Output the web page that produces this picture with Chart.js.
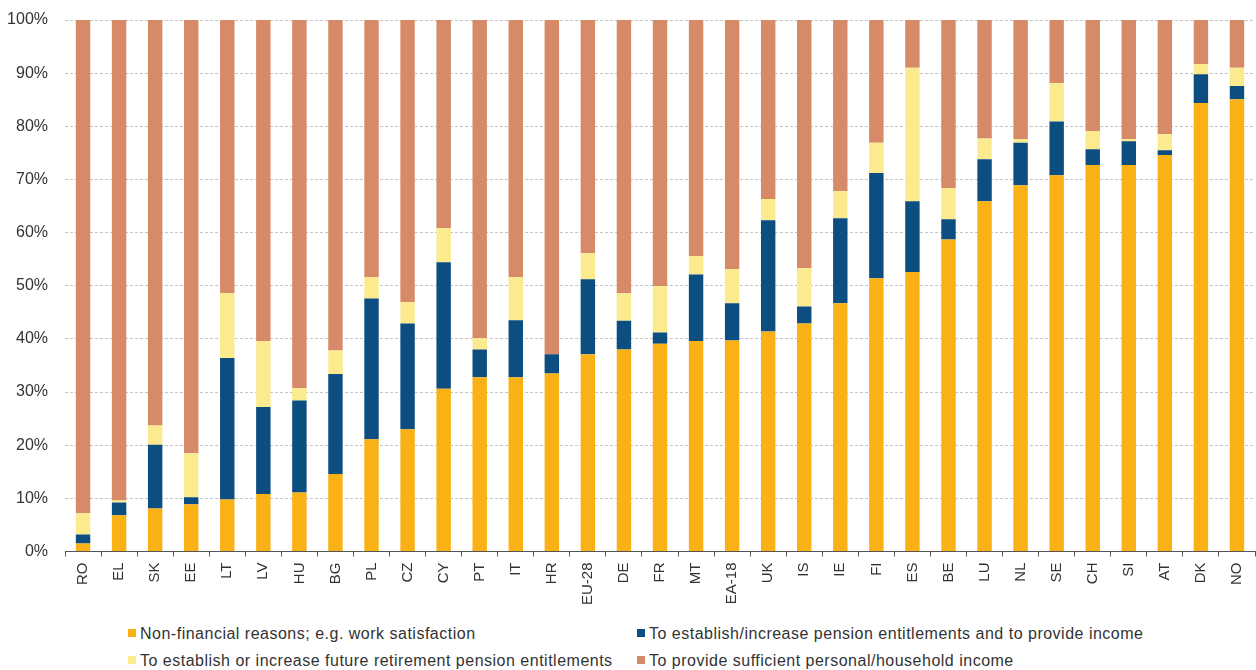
<!DOCTYPE html>
<html>
<head>
<meta charset="utf-8">
<script src="https://cdn.jsdelivr.net/npm/chart.js@4"></script>
<style>
  html, body { margin: 0; padding: 0; background: #fff; }
  #wrap { position: relative; width: 1256px; height: 670px; }
  #chart { position: absolute; left: 0; top: 0; }
  #legend {
    position: absolute; left: 0; top: 624px; width: 1256px;
    font-family: Arial, "Liberation Sans", sans-serif; font-size: 16px; letter-spacing: 0.5px; color: #333;
  }
  .item { position: absolute; white-space: nowrap; line-height: 20px; }
  .box { display: inline-block; width: 8px; height: 8px; margin-right: 4px; vertical-align: 2px; }
</style>
</head>
<body>
<div id="wrap">
  <canvas id="chart" width="1256" height="611"></canvas>
  <div id="legend"></div>
</div>
<script>
// Countries, in the order shown
const countries = ['RO', 'EL', 'SK', 'EE', 'LT', 'LV', 'HU', 'BG', 'PL', 'CZ', 'CY', 'PT', 'IT', 'HR', 'EU-28',
  'DE', 'FR', 'MT', 'EA-18', 'UK', 'IS', 'IE', 'FI', 'ES', 'BE', 'LU', 'NL', 'SE', 'CH', 'SI', 'AT', 'DK', 'NO'];

// Shares (%) for each reason, stacked bottom to top
const nonFinancial = [1.5, 6.8, 8.1, 8.9, 9.8, 10.8, 11.1, 14.6, 21.1, 23.0, 30.6, 32.8, 32.8, 33.5, 37.1,
  38.0, 39.1, 39.6, 39.7, 41.4, 42.9, 46.7, 51.4, 52.6, 58.7, 65.9, 68.9, 70.8, 72.7, 72.7, 74.6, 84.4, 85.1];
const pensionAndIncome = [1.7, 2.4, 12.0, 1.3, 26.6, 16.4, 17.3, 18.8, 26.5, 19.9, 23.8, 5.2, 10.7, 3.6, 14.1,
  5.4, 2.1, 12.5, 7.0, 20.9, 3.2, 16.0, 19.8, 13.3, 3.8, 7.9, 8.0, 10.1, 3.0, 4.5, 0.9, 5.4, 2.5];
const pensionOnly = [4.0, 0.4, 3.6, 8.3, 12.2, 12.4, 2.3, 4.4, 4.0, 4.0, 6.4, 2.1, 8.1, 0.0, 4.9,
  5.2, 8.7, 3.5, 6.4, 4.0, 7.2, 5.1, 5.7, 25.1, 5.9, 3.9, 0.7, 7.2, 3.4, 0.4, 3.0, 1.9, 3.4];
// remaining share up to 100%
const incomeOnly = countries.map((c, i) => +(100 - nonFinancial[i] - pensionAndIncome[i] - pensionOnly[i]).toFixed(1));

const yTicks = [0, 10, 20, 30, 40, 50, 60, 70, 80, 90, 100];

const seriesNames = [
  'Non-financial reasons; e.g. work satisfaction',
  'To establish/increase pension entitlements and to provide income',
  'To establish or increase future retirement pension entitlements',
  'To provide sufficient personal/household income'
];
const seriesColors = ['#F9B116', '#0C4E80', '#FBEB8E', '#D68A67'];
const seriesData = [nonFinancial, pensionAndIncome, pensionOnly, incomeOnly];

const font = 'Arial, "Liberation Sans", sans-serif';

const data = {
  labels: countries,
  datasets: seriesData.map((d, i) => ({
    label: seriesNames[i],
    data: d,
    backgroundColor: seriesColors[i],
    borderWidth: 0,
    barPercentage: 0.4,
    categoryPercentage: 1.0
  }))
};

const options = {
  responsive: false,
  animation: false,
  layout: { padding: { left: 0, right: 1, top: 20, bottom: 0 } },
  plugins: { legend: { display: false }, tooltip: { enabled: false } },
  scales: {
    x: {
      stacked: true,
      offset: true,
      // rotated labels need no extra side room here
      afterFit: axis => { axis.paddingLeft = 0; axis.paddingRight = 0; },
      grid: { display: true, drawOnChartArea: false, drawTicks: true, tickLength: 5, offset: true, color: '#555' },
      border: { display: true, color: '#555', width: 1 },
      ticks: {
        autoSkip: false, maxRotation: 90, minRotation: 90, padding: 6,
        color: '#333', font: { family: font, size: 15 }
      }
    },
    y: {
      stacked: true,
      min: 0, max: 100,
      afterBuildTicks: axis => { axis.ticks = yTicks.map(v => ({ value: v })); },
      // fixed axis width, no extra room above/below for the labels
      afterFit: axis => { axis.width = 65; axis.paddingTop = 0; axis.paddingBottom = 0; },
      grid: { color: '#c4c4c4', drawTicks: false },
      border: { display: false, dash: [3, 2] },
      ticks: {
        padding: 17, color: '#333', font: { family: font, size: 16 },
        callback: v => v + '%'
      }
    }
  }
};

new Chart(document.getElementById('chart'), { type: 'bar', data: data, options: options });

// two-column legend below the chart
const legendPos = [[128, 0], [637, 0], [128, 27], [637, 27]];
const legend = document.getElementById('legend');
seriesNames.forEach((name, i) => {
  const el = document.createElement('div');
  el.className = 'item';
  el.style.left = legendPos[i][0] + 'px';
  el.style.top = legendPos[i][1] + 'px';
  el.innerHTML = '<span class="box" style="background:' + seriesColors[i] + '"></span>' + name;
  legend.appendChild(el);
});
</script>
</body>
</html>
